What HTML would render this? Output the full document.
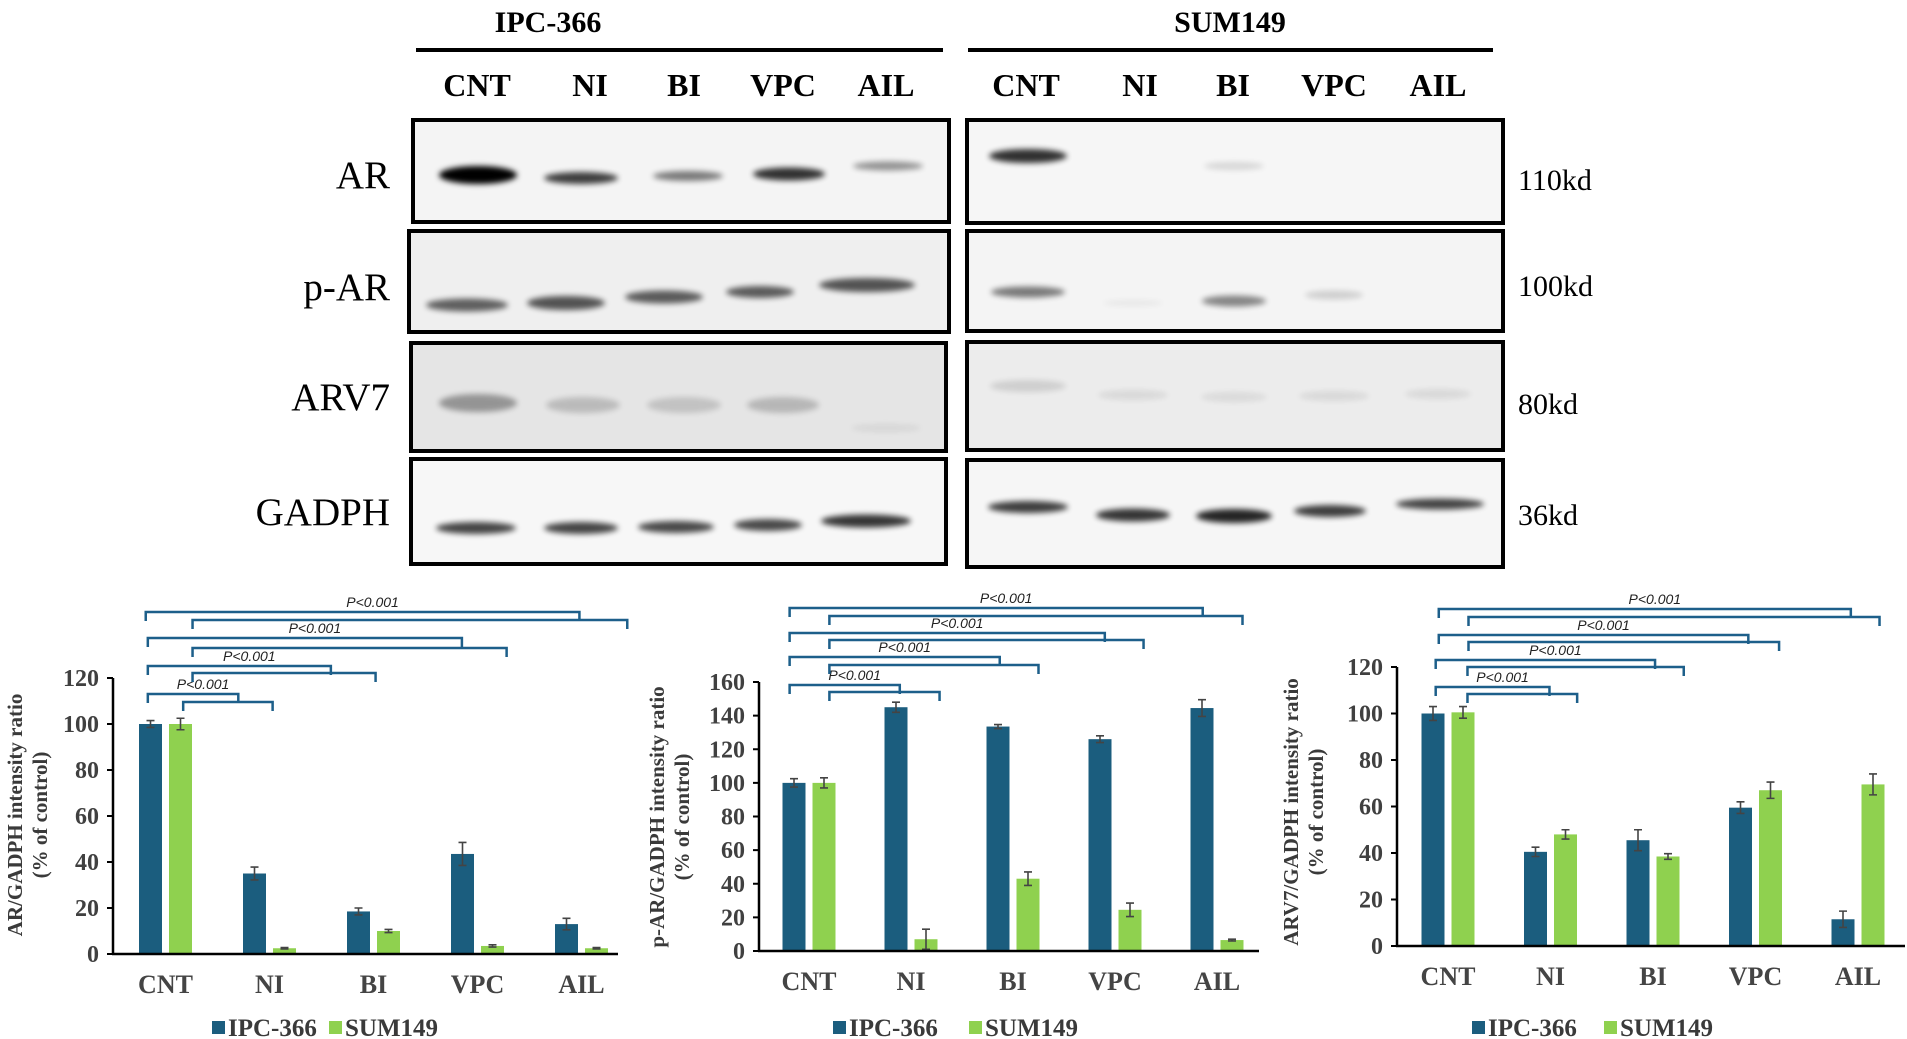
<!DOCTYPE html>
<html><head><meta charset="utf-8">
<style>
html,body{margin:0;padding:0;background:#fff;}
svg{display:block;}
.serif{font-family:"Liberation Serif",serif;}
.sans{font-family:"Liberation Sans",sans-serif;}
</style></head>
<body>
<svg id="fig" xmlns="http://www.w3.org/2000/svg" width="1907" height="1039" viewBox="0 0 1907 1039">
<defs>
<filter id="blur" x="-20%" y="-80%" width="140%" height="260%"><feGaussianBlur stdDeviation="3"/></filter>
</defs>
<g id="blots">
<text class="serif" x="548" y="32" font-size="30" font-weight="bold" text-anchor="middle">IPC-366</text>
<text class="serif" x="1230" y="32" font-size="30" font-weight="bold" text-anchor="middle">SUM149</text>
<rect x="416" y="48" width="527" height="4" fill="#000"/>
<rect x="968" y="48" width="525" height="4" fill="#000"/>
<g class="serif" font-size="32" font-weight="bold" text-anchor="middle">
<text x="477" y="96">CNT</text>
<text x="590" y="96">NI</text>
<text x="684" y="96">BI</text>
<text x="783" y="96">VPC</text>
<text x="886" y="96">AIL</text>
<text x="1026" y="96">CNT</text>
<text x="1140" y="96">NI</text>
<text x="1233" y="96">BI</text>
<text x="1334" y="96">VPC</text>
<text x="1438" y="96">AIL</text>
</g>
<g class="serif" font-size="39" text-anchor="end">
<text x="390" y="188">AR</text>
<text x="390" y="300">p-AR</text>
<text x="390" y="410">ARV7</text>
<text x="390" y="525">GADPH</text>
</g>
<g class="serif" font-size="30">
<text x="1518" y="190">110kd</text>
<text x="1518" y="296">100kd</text>
<text x="1518" y="414">80kd</text>
<text x="1518" y="525">36kd</text>
</g>
<g id="blotboxes"></g>
</g>
<g id="charts"></g>
</svg>
<script>
// ===== Chart data =====
const categories = ["CNT", "NI", "BI", "VPC", "AIL"];
const seriesNames = ["IPC-366", "SUM149"];
// AR/GADPH
const arIpc = [100, 35, 18.5, 43.5, 13];
const arIpcErr = [1.5, 2.8, 1.5, 5, 2.5];
const arSum = [100, 2.5, 10, 3.5, 2.5];
const arSumErr = [2.5, 0.3, 0.7, 0.5, 0.3];
const arTicks = [0, 20, 40, 60, 80, 100, 120];
// p-AR/GADPH
const parIpc = [100, 145, 133.5, 126, 144.5];
const parIpcErr = [2.5, 3, 1.2, 2, 5];
const parSum = [100, 7, 43, 24.5, 6.5];
const parSumErr = [3, 6, 4, 4, 0.5];
const parTicks = [0, 20, 40, 60, 80, 100, 120, 140, 160];
// ARV7/GADPH
const arv7Ipc = [100, 40.5, 45.5, 59.5, 11.5];
const arv7IpcErr = [3, 2, 4.5, 2.5, 3.5];
const arv7Sum = [100.5, 48, 38.5, 67, 69.5];
const arv7SumErr = [2.5, 2, 1.2, 3.5, 4.5];
const arv7Ticks = [0, 20, 40, 60, 80, 100, 120];
// significance brackets: [left end, right end] in category units
const arBracketsA = [[-0.17, 0.70], [-0.17, 1.59], [-0.17, 2.85], [-0.19, 3.98]];
const arBracketsB = [[0.17, 1.03], [0.26, 2.02], [0.26, 3.28], [0.26, 4.44]];
const parBracketsA = [[-0.19, 0.89], [-0.19, 1.87], [-0.19, 2.90], [-0.19, 3.86]];
const parBracketsB = [[0.20, 1.28], [0.20, 2.25], [0.20, 3.28], [0.20, 4.25]];
const arv7BracketsA = [[-0.12, 0.99], [-0.12, 2.02], [-0.09, 2.93], [-0.09, 3.93]];
const arv7BracketsB = [[0.19, 1.26], [0.19, 2.30], [0.2, 3.23], [0.2, 4.21]];
const pLabel = "P<0.001";

const NS = "http://www.w3.org/2000/svg";
function mk(tag, attrs, parent) {
  const e = document.createElementNS(NS, tag);
  for (const k in attrs) e.setAttribute(k, attrs[k]);
  parent.appendChild(e);
  return e;
}

// ===== Blot boxes and bands =====
const boxes = document.getElementById("blotboxes");
const boxDefs = [
  ["ar-ipc", 413, 120, 536, 102, "#f4f4f4"],
  ["p-ar-ipc", 409, 231, 540, 101, "#efefef"],
  ["arv7-ipc", 411, 343, 535, 108, "#e5e5e5"],
  ["gadph-ipc", 411, 459, 535, 105, "#f7f7f7"],
  ["ar-sum", 967, 120, 536, 103, "#f6f6f6"],
  ["p-ar-sum", 967, 231, 536, 100, "#f4f4f4"],
  ["arv7-sum", 967, 342, 536, 108, "#ececec"],
  ["gadph-sum", 967, 460, 536, 107, "#f6f6f6"]
];
const bandDefs = [
  ["ar-ipc", 478, 175, 78, 18, 1.0], ["ar-ipc", 581, 178, 74, 12, 0.75], ["ar-ipc", 688, 176, 70, 10, 0.5],
  ["ar-ipc", 789, 174, 72, 13, 0.8], ["ar-ipc", 888, 166, 70, 9, 0.4],
  ["ar-sum", 1028, 156, 78, 14, 0.8], ["ar-sum", 1234, 166, 60, 8, 0.12],
  ["p-ar-ipc", 467, 305, 82, 13, 0.6], ["p-ar-ipc", 566, 303, 78, 14, 0.65], ["p-ar-ipc", 664, 297, 78, 13, 0.62],
  ["p-ar-ipc", 760, 292, 68, 12, 0.62], ["p-ar-ipc", 867, 285, 96, 14, 0.65],
  ["p-ar-sum", 1028, 292, 74, 11, 0.5], ["p-ar-sum", 1133, 303, 60, 6, 0.05], ["p-ar-sum", 1234, 301, 64, 11, 0.45], ["p-ar-sum", 1334, 295, 58, 9, 0.15],
  ["arv7-ipc", 478, 403, 78, 18, 0.35], ["arv7-ipc", 583, 405, 74, 16, 0.18], ["arv7-ipc", 684, 405, 74, 16, 0.15],
  ["arv7-ipc", 783, 405, 72, 16, 0.2], ["arv7-ipc", 886, 428, 70, 8, 0.06],
  ["arv7-sum", 1028, 386, 76, 12, 0.12], ["arv7-sum", 1133, 395, 70, 10, 0.08], ["arv7-sum", 1234, 397, 66, 10, 0.07],
  ["arv7-sum", 1334, 396, 70, 10, 0.08], ["arv7-sum", 1438, 394, 66, 10, 0.08],
  ["gadph-ipc", 476, 528, 80, 12, 0.72], ["gadph-ipc", 581, 528, 74, 12, 0.72], ["gadph-ipc", 676, 527, 76, 12, 0.7],
  ["gadph-ipc", 768, 525, 68, 12, 0.7], ["gadph-ipc", 866, 521, 90, 13, 0.78],
  ["gadph-sum", 1028, 507, 80, 12, 0.75], ["gadph-sum", 1133, 515, 74, 13, 0.78], ["gadph-sum", 1234, 516, 76, 14, 0.85],
  ["gadph-sum", 1330, 511, 72, 12, 0.75], ["gadph-sum", 1440, 504, 88, 11, 0.72]
];
boxDefs.forEach(b => {
  const g = mk("g", {}, boxes);
  
  
  const bg = mk("rect", {x: b[1], y: b[2], width: b[3], height: b[4], fill: b[5]}, g);
  
  
  bandDefs.filter(d => d[0] === b[0]).forEach(d => {
    const e = mk("ellipse", {cx: d[1], cy: d[2], rx: d[3] / 2, ry: d[4] / 2, fill: "#000", opacity: d[5], filter: "url(#blur)"}, g);
    
    
  });
  const fr = mk("rect", {x: b[1], y: b[2], width: b[3], height: b[4], fill: "none", stroke: "#000", "stroke-width": 4}, g);
  
  
});

// ===== Bar charts =====
const charts = document.getElementById("charts");
const BLUE = "#1b5d7e", GREEN = "#8fd14f", BR = "#1d5f8a";

function drawChart(cfg, ipc, ipcErr, sum, sumErr, ticks, brA, brB) {
  const g = mk("g", {}, charts);
  
  
  const maxV = ticks[ticks.length - 1];
  const yS = v => cfg.zeroY - (v / maxV) * (cfg.zeroY - cfg.topY);
  const xS = c => cfg.c0 + c * cfg.step;

  [[ipc, ipcErr, BLUE, -1, "ipc-366"], [sum, sumErr, GREEN, 1, "sum149"]].forEach(s => {
    s[0].forEach((v, i) => {
      const cx = xS(i) + s[3] * 15;
      const r = mk("rect", {x: cx - 11.5, y: yS(v), width: 23, height: cfg.zeroY - yS(v), fill: s[2]}, g);
      
      
      const e = s[1][i];
      const eg = mk("path", {d: `M${cx},${yS(v + e)}V${yS(v - e)}M${cx - 4},${yS(v + e)}H${cx + 4}M${cx - 4},${yS(v - e)}H${cx + 4}`, stroke: "#444", "stroke-width": 1.6, fill: "none"}, g);
      
      
    });
  });

  const ya = mk("line", {x1: cfg.axisX, y1: cfg.topY, x2: cfg.axisX, y2: cfg.zeroY, stroke: "#000", "stroke-width": 2.5}, g);
  
  
  const xa = mk("line", {x1: cfg.axisX - 1, y1: cfg.zeroY, x2: cfg.axisEnd, y2: cfg.zeroY, stroke: "#000", "stroke-width": 2.5}, g);
  
  
  ticks.forEach(t => {
    const tl = mk("line", {x1: cfg.axisX - 6, y1: yS(t), x2: cfg.axisX, y2: yS(t), stroke: "#000", "stroke-width": 2}, g);
    
    
    const tx = mk("text", {x: cfg.axisX - 14, y: yS(t) + 8, "font-size": 24, "font-weight": "bold", "text-anchor": "end", fill: "#404040", "class": "serif"}, g);
    tx.textContent = t;
    
    
  });
  categories.forEach((c, i) => {
    const tx = mk("text", {x: xS(i), y: cfg.zeroY + 39, "font-size": 26, "font-weight": "bold", "text-anchor": "middle", fill: "#444", "class": "serif"}, g);
    tx.textContent = c;
    
    
  });
  const yl = mk("text", {transform: `translate(${cfg.ylX},${cfg.ylY}) rotate(-90)`, "font-size": 21, "font-weight": "bold", "text-anchor": "middle", fill: "#3a3a3a", "class": "serif"}, g);
  
  
  const t1 = mk("tspan", {x: 0, y: 0}, yl); t1.textContent = cfg.ylabel;
  const t2 = mk("tspan", {x: 0, y: 25}, yl); t2.textContent = "(% of control)";

  const levA = cfg.levA, levB = cfg.levB;
  brA.forEach((b, k) => {
    [[b, levA[k], "A"], [brB[k], levB[k], "B"]].forEach(q => {
      const x1 = xS(q[0][0]), x2 = xS(q[0][1]), y = q[1];
      const p = mk("path", {d: `M${x1},${y + 9}V${y}H${x2}V${y + 9}`, stroke: BR, "stroke-width": 2.5, fill: "none"}, g);
      
      
    });
    const lx = (xS(b[0]) + xS(b[1])) / 2 + 10;
    const pl = mk("text", {x: lx, y: levA[k] - 5, "font-size": 14, "font-style": "italic", "text-anchor": "middle", fill: "#222", "class": "sans"}, g);
    pl.textContent = pLabel;
    
    
  });

  [[BLUE, seriesNames[0], cfg.legX[0]], [GREEN, seriesNames[1], cfg.legX[1]]].forEach((l, i) => {
    const sq = mk("rect", {x: l[2], y: 1021, width: 13, height: 13, fill: l[0]}, g);
    
    
    const lt = mk("text", {x: l[2] + 16, y: 1036, "font-size": 25, "font-weight": "bold", fill: "#3a3a3a", "class": "serif"}, g);
    lt.textContent = l[1];
    
    
  });
}

drawChart({name: "chart-ar", axisX: 113, zeroY: 954, topY: 678, axisEnd: 618, c0: 165.5, step: 104,
  ylX: 22, ylY: 815, ylabel: "AR/GADPH intensity ratio",
  levA: [694, 666, 638, 612], levB: [702, 673, 648, 620], legX: [212, 329]},
  arIpc, arIpcErr, arSum, arSumErr, arTicks, arBracketsA, arBracketsB);
drawChart({name: "chart-p-ar", axisX: 759, zeroY: 951, topY: 682, axisEnd: 1259, c0: 809, step: 102,
  ylX: 664, ylY: 817, ylabel: "p-AR/GADPH intensity ratio",
  levA: [685, 657, 633, 608], levB: [692, 665, 640, 616], legX: [833, 969]},
  parIpc, parIpcErr, parSum, parSumErr, parTicks, parBracketsA, parBracketsB);
drawChart({name: "chart-arv7", axisX: 1397, zeroY: 946, topY: 667, axisEnd: 1905, c0: 1448, step: 102.5,
  ylX: 1298, ylY: 812, ylabel: "ARV7/GADPH intensity ratio",
  levA: [687, 660, 635, 609], levB: [694, 667, 642, 617], legX: [1472, 1604]},
  arv7Ipc, arv7IpcErr, arv7Sum, arv7SumErr, arv7Ticks, arv7BracketsA, arv7BracketsB);
</script>
</body></html>
